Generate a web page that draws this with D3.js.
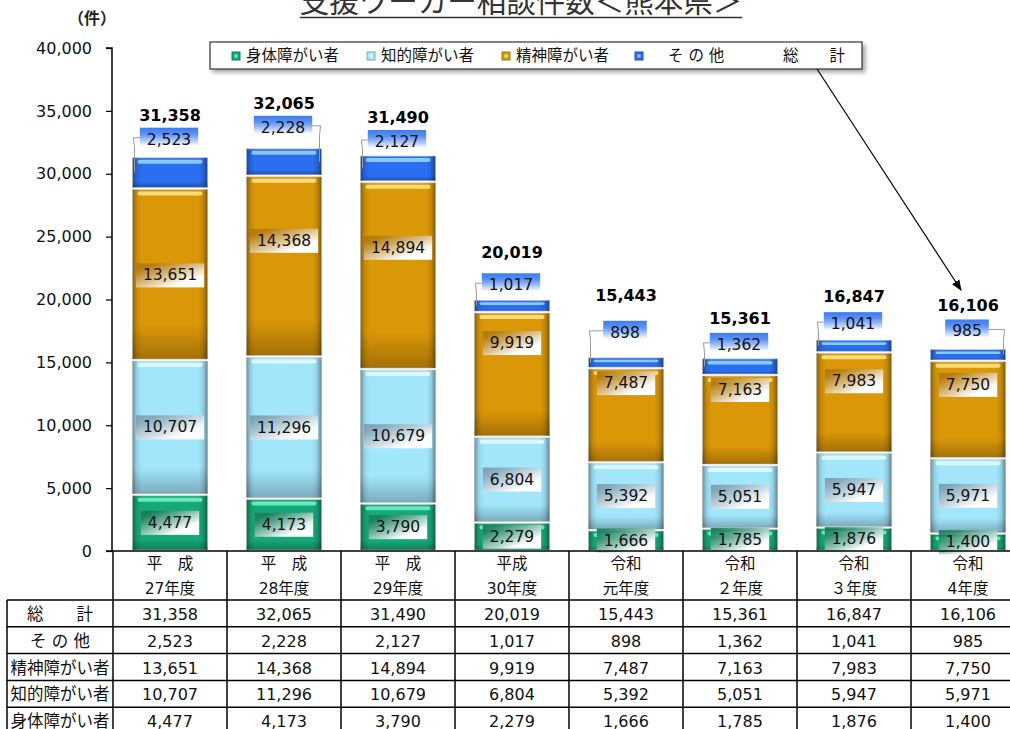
<!DOCTYPE html>
<html>
<head>
<meta charset="utf-8">
<script src="https://cdn.jsdelivr.net/npm/d3@7.9.0/dist/d3.min.js"></script>
<style>
  body { margin: 0; background: #fff; }
  svg { display: block; font-family: "DejaVu Sans", "Noto Sans CJK JP", sans-serif; }
</style>
</head>
<body>
<svg id="chart" width="1010" height="729"></svg>
<script>
const title = '支援ワーカー相談件数＜熊本県＞';
const unitLabel = '（件）';
const years = ['H27', 'H28', 'H29', 'H30', 'R1', 'R2', 'R3', 'R4'];
const yearLine1 = ['平　成', '平　成', '平　成', '平成', '令和', '令和', '令和', '令和'];
const yearLine2 = ['27年度', '28年度', '29年度', '30年度', '元年度', '２年度', '３年度', '4年度'];

const physical     = [4477, 4173, 3790, 2279, 1666, 1785, 1876, 1400];
const intellectual = [10707, 11296, 10679, 6804, 5392, 5051, 5947, 5971];
const mental       = [13651, 14368, 14894, 9919, 7487, 7163, 7983, 7750];
const other        = [2523, 2228, 2127, 1017, 898, 1362, 1041, 985];

const seriesNames = ['身体障がい者', '知的障がい者', '精神障がい者', 'そ の 他'];
const totalName = '総　　計';
const yTicks = [0, 5000, 10000, 15000, 20000, 25000, 30000, 35000, 40000];

// styles per series (bottom -> top)
const keys = ['physical', 'intellectual', 'mental', 'other'];
const colors = {
  physical:     { base: '#16a878', hi: '#6ff0c4', box: '#1a7d5c' },
  intellectual: { base: '#a2e6fc', hi: '#e6faff', box: '#7f9fb0' },
  mental:       { base: '#da9708', hi: '#ffe383', box: '#b27a10' },
  other:        { base: '#2a6ff0', hi: '#93d2ff', box: '#3b7cf2' }
};

const rows = years.map((y, i) => ({
  year: y,
  physical: physical[i],
  intellectual: intellectual[i],
  mental: mental[i],
  other: other[i]
}));
const stacked = d3.stack().keys(keys)(rows);

const svg = d3.select('#chart');
const fmt = d3.format(',');

const x = d3.scaleBand().domain(years).range([113, 113 + 114 * 8]).padding(0);
const y = d3.scaleLinear().domain([0, 40000]).range([551, 48]);
const barW = 75;
const barX = d => x(d) + (x.bandwidth() - barW) / 2;

// ---------- defs ----------
const defs = svg.append('defs');
const bevel = defs.append('linearGradient').attr('id', 'bevelH').attr('x1', 0).attr('x2', 1).attr('y1', 0).attr('y2', 0);
[[0, 0.35], [0.06, 0.08], [0.12, 0], [0.88, 0], [0.94, 0.1], [1, 0.4]].forEach(([o, a]) =>
  bevel.append('stop').attr('offset', o).attr('stop-color', '#000').attr('stop-opacity', a));
const bevelV = defs.append('linearGradient').attr('id', 'bevelV').attr('x1', 0).attr('x2', 0).attr('y1', 0).attr('y2', 1);
[[0, 0], [0.8, 0], [1, 0.25]].forEach(([o, a]) =>
  bevelV.append('stop').attr('offset', o).attr('stop-color', '#000').attr('stop-opacity', a));

keys.forEach(k => {
  const g = defs.append('linearGradient').attr('id', 'box-' + k);
  if (k === 'other') g.attr('x1', 0).attr('y1', 0).attr('x2', 0).attr('y2', 1);
  else g.attr('x1', 0).attr('y1', 0).attr('x2', 1).attr('y2', 1);
  g.append('stop').attr('offset', 0).attr('stop-color', colors[k].box);
  g.append('stop').attr('offset', k === 'other' ? 0.25 : 0.15).attr('stop-color', colors[k].box).attr('stop-opacity', 0.85);
  g.append('stop').attr('offset', 0.75).attr('stop-color', '#fff');
  g.append('stop').attr('offset', 1).attr('stop-color', '#fff');
});
const shadow = defs.append('filter').attr('id', 'shadow').attr('x', '-5%').attr('y', '-30%').attr('width', '110%').attr('height', '180%');
shadow.append('feDropShadow').attr('dx', 3).attr('dy', 3).attr('stdDeviation', 2).attr('flood-color', '#000').attr('flood-opacity', 0.35);
defs.append('marker').attr('id', 'arrow').attr('viewBox', '0 0 10 10').attr('refX', 9).attr('refY', 5)
  .attr('markerWidth', 9).attr('markerHeight', 9).attr('orient', 'auto')
  .append('path').attr('d', 'M0,1 L10,5 L0,9 Z').attr('fill', '#000');

// ---------- title ----------
const titleText = svg.append('text').attr('x', 521).attr('y', 12).attr('text-anchor', 'middle')
  .attr('font-size', 29.5).attr('fill', '#333').text(title);
const tb = titleText.node().getBBox();
svg.append('line').attr('x1', tb.x).attr('x2', tb.x + tb.width).attr('y1', 17.5).attr('y2', 17.5)
  .attr('stroke', '#333').attr('stroke-width', 1.5);

svg.append('text').attr('x', 92).attr('y', 24).attr('text-anchor', 'middle')
  .attr('font-size', 16).attr('font-weight', 'bold').attr('fill', '#222').text(unitLabel);

// ---------- y axis ----------
const yAxis = svg.append('g').attr('transform', 'translate(112,0)')
  .call(d3.axisLeft(y).tickValues(yTicks).tickFormat(fmt).tickSize(6).tickPadding(14));
yAxis.select('.domain').attr('stroke', '#000').attr('stroke-width', 1.5).attr('d', 'M-6,48H0V551');
yAxis.selectAll('.tick line').attr('stroke', '#000').attr('stroke-width', 1.2);
yAxis.selectAll('.tick text').attr('font-size', 16).attr('fill', '#111')
  .attr('font-family', '"DejaVu Sans", sans-serif');

// ---------- bars ----------
const bars = svg.append('g');
stacked.forEach(s => {
  const c = colors[s.key];
  const g = bars.append('g');
  s.forEach((d, i) => {
    const x0 = barX(years[i]);
    const top = y(d[1]) + 1;
    const h = y(d[0]) - y(d[1]) - 2;
    g.append('rect').attr('x', x0).attr('y', top).attr('width', barW).attr('height', h)
      .attr('fill', c.base).attr('stroke', '#d8d8d8').attr('stroke-width', 0.8);
    g.append('rect').attr('x', x0).attr('y', top).attr('width', barW).attr('height', h).attr('fill', 'url(#bevelH)');
    g.append('rect').attr('x', x0).attr('y', top).attr('width', barW).attr('height', h).attr('fill', 'url(#bevelV)');
    g.append('rect').attr('x', x0 + 5).attr('y', top + 2).attr('width', barW - 10)
      .attr('height', Math.min(4, h / 4)).attr('rx', 2).attr('fill', c.hi).attr('opacity', 0.9);
  });
});

// ---------- value labels ----------
const labels = svg.append('g').attr('font-size', 15.5).attr('fill', '#111');
function boxLabel(cx, cy, value, key) {
  const g = labels.append('g');
  const t = g.append('text').attr('x', cx).attr('y', cy).attr('text-anchor', 'middle')
    .attr('dominant-baseline', 'central').text(fmt(value));
  const w = t.node().getComputedTextLength() + 14;
  g.insert('rect', 'text').attr('x', cx - w / 2).attr('y', cy - 12).attr('width', w).attr('height', 24)
    .attr('fill', `url(#box-${key})`);
  return w;
}
// manual nudges like the original (px below the segment top)
const mentalOffset = [87, 65, 66, 31, 15, 15, 29, 24];
const otherAbove = [17, 20, 13, 14, 24, 13, 15, 17];
const totalAbove = [41, 44, 38, 47, 61, 39, 43, 43];
const leaderSide = ['L', 'R', 'L', 'L', 'L', 'L', 'L', 'R'];

stacked.forEach(s => {
  s.forEach((d, i) => {
    const cx = x(years[i]) + x.bandwidth() / 2;
    const top = y(d[1]), bottom = y(d[0]);
    if (s.key === 'other') {
      const cy = top - otherAbove[i];
      const w = boxLabel(cx - 1, cy, d.data.other, 'other');
      const side = leaderSide[i];
      if (side) {
        const bx = side === 'L' ? cx - 1 - w / 2 : cx - 1 + w / 2;
        const lx = side === 'L' ? barX(years[i]) + 2 : barX(years[i]) + barW - 2;
        const ly = (top + bottom) / 2;
        labels.append('polyline')
          .attr('points', `${bx},${cy - 2} ${lx + (side === 'L' ? -1 : 1) * 1},${cy - 2} ${lx},${Math.min(cy + 8, ly)} ${lx},${ly}`)
          .attr('fill', 'none').attr('stroke', '#9a9a9a').attr('stroke-width', 1);
      }
      labels.append('text').attr('x', cx).attr('y', top - totalAbove[i]).attr('text-anchor', 'middle')
        .attr('dominant-baseline', 'central').attr('font-weight', 'bold').attr('font-size', 16)
        .attr('fill', '#000').text(fmt(d[1]));
    } else {
      const cy = s.key === 'mental' ? top + mentalOffset[i] : (top + bottom) / 2;
      boxLabel(cx, cy, d.data[s.key], s.key);
    }
  });
});

// ---------- legend ----------
const legend = svg.append('g');
legend.append('rect').attr('x', 210).attr('y', 42).attr('width', 652).attr('height', 27)
  .attr('fill', '#fff').attr('stroke', '#333').attr('stroke-width', 1.2).attr('filter', 'url(#shadow)');
const iconX = [232, 367, 502, 635];
const textX = [246, 381, 516, 668];
keys.forEach((k, i) => {
  const c = colors[k];
  legend.append('rect').attr('x', iconX[i]).attr('y', 52).attr('width', 8).attr('height', 8).attr('fill', c.base)
    .attr('stroke', d3.color(c.base).darker(0.8)).attr('stroke-width', 1);
  legend.append('rect').attr('x', iconX[i] + 2.5).attr('y', 54.5).attr('width', 3).attr('height', 3).attr('fill', c.hi);
  legend.append('text').attr('x', textX[i]).attr('y', 56).attr('dominant-baseline', 'central')
    .attr('font-size', 15.5).attr('fill', '#111').text(seriesNames[i]);
});
legend.append('text').attr('x', 783).attr('y', 56).attr('dominant-baseline', 'central')
  .attr('font-size', 15.5).attr('fill', '#111').text(totalName);

svg.append('line').attr('x1', 817).attr('y1', 69).attr('x2', 961).attr('y2', 290)
  .attr('stroke', '#000').attr('stroke-width', 1.2).attr('marker-end', 'url(#arrow)');

// ---------- data table ----------
const table = svg.append('g');
const rowH = 26.8;
const rowTop = 600;
const tableRows = [
  { label: totalName, values: years.map((_, i) => physical[i] + intellectual[i] + mental[i] + other[i]) },
  { label: 'そ の 他', values: other },
  { label: '精神障がい者', values: mental },
  { label: '知的障がい者', values: intellectual },
  { label: '身体障がい者', values: physical }
];
table.append('line').attr('x1', 106).attr('x2', 1010).attr('y1', 551).attr('y2', 551)
  .attr('stroke', '#000').attr('stroke-width', 1.5);
years.forEach((yr, i) => {
  table.append('line').attr('x1', x(yr)).attr('x2', x(yr)).attr('y1', 551).attr('y2', 729)
    .attr('stroke', '#000').attr('stroke-width', 1.5);
  const cx = x(yr) + x.bandwidth() / 2;
  table.append('text').attr('x', cx).attr('y', 564).attr('text-anchor', 'middle').attr('dominant-baseline', 'central')
    .attr('font-size', 15.5).attr('fill', '#111').text(yearLine1[i]);
  table.append('text').attr('x', cx).attr('y', 589).attr('text-anchor', 'middle').attr('dominant-baseline', 'central')
    .attr('font-size', 15.5).attr('fill', '#111').text(yearLine2[i]);
});
table.append('line').attr('x1', 7).attr('x2', 7).attr('y1', rowTop).attr('y2', 729)
  .attr('stroke', '#000').attr('stroke-width', 1.5);
tableRows.forEach((r, j) => {
  const ry = rowTop + j * rowH;
  table.append('line').attr('x1', 7).attr('x2', 1010).attr('y1', ry).attr('y2', ry)
    .attr('stroke', '#000').attr('stroke-width', 1.5);
  table.append('text').attr('x', 60).attr('y', ry + rowH / 2 + 1).attr('text-anchor', 'middle')
    .attr('dominant-baseline', 'central').attr('font-size', 16.5).attr('fill', '#111').text(r.label);
  r.values.forEach((v, i) => {
    table.append('text').attr('x', x(years[i]) + x.bandwidth() / 2).attr('y', ry + rowH / 2 + 1)
      .attr('text-anchor', 'middle').attr('dominant-baseline', 'central')
      .attr('font-size', 16).attr('fill', '#111').text(fmt(v));
  });
});
</script>
</body>
</html>
